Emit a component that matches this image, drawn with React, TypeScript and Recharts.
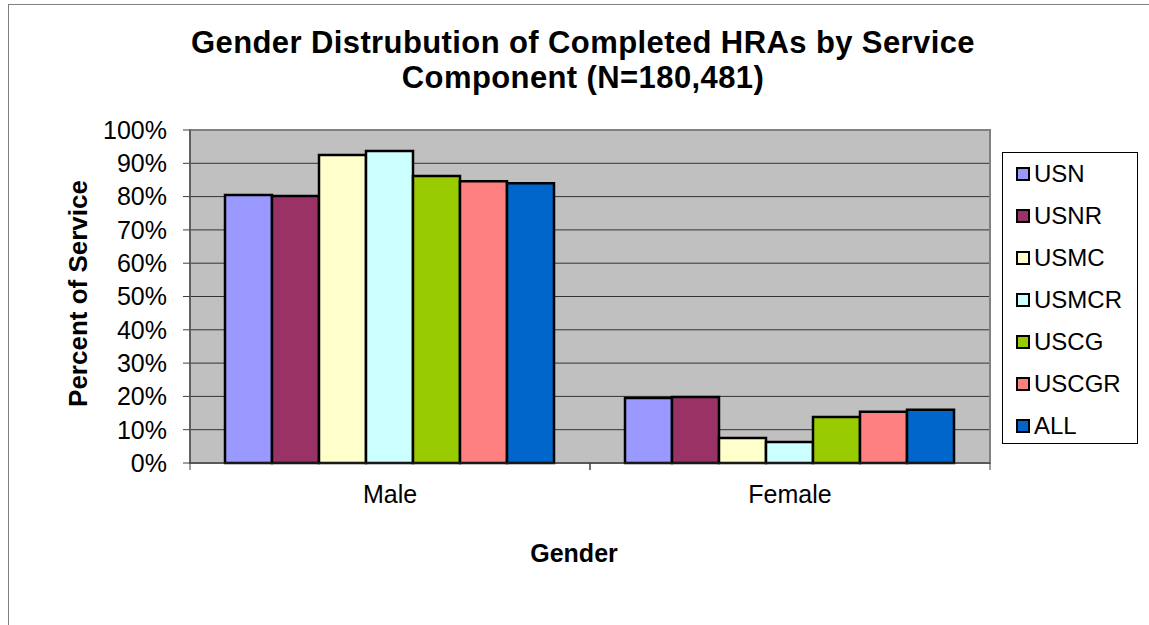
import React from 'react';
import { BarChart, Bar, XAxis, YAxis, CartesianGrid, Legend, ReferenceArea } from 'recharts';

const FONT = '"Liberation Sans", Arial, Helvetica, sans-serif';

// categories
const genders = ['Male', 'Female'];

// percent of service
const usn = [80.5, 19.5];
const usnr = [80.2, 19.8];
const usmc = [92.5, 7.5];
const usmcr = [93.7, 6.3];
const uscg = [86.2, 13.8];
const uscgr = [84.6, 15.4];
const all = [84.0, 16.0];

const yTicks = [0, 10, 20, 30, 40, 50, 60, 70, 80, 90, 100];

const series = [
    { key: 'USN', values: usn, color: '#9999FF' },
    { key: 'USNR', values: usnr, color: '#993366' },
    { key: 'USMC', values: usmc, color: '#FFFFCC' },
    { key: 'USMCR', values: usmcr, color: '#CCFFFF' },
    { key: 'USCG', values: uscg, color: '#99CC00' },
    { key: 'USCGR', values: uscgr, color: '#FF8080' },
    { key: 'ALL', values: all, color: '#0066CC' },
];

const data = genders.map((g, i) => {
    const row: { [k: string]: string | number } = { gender: g };
    series.forEach(s => { row[s.key] = s.values[i]; });
    return row;
});

const X_TICK_MARGIN = 22;

// category label plus the little tick marks at the band edges
const GenderTick = (props: any) => {
    const { x, y, payload, width } = props;
    const half = payload.offset || (width / genders.length / 2);
    const axisY = y - X_TICK_MARGIN;
    return (
        <g>
            <line x1={x - half} x2={x - half} y1={axisY} y2={axisY + 7} stroke="#404040" />
            <line x1={x + half} x2={x + half} y1={axisY} y2={axisY + 7} stroke="#404040" />
            <text x={x} y={y} dy="0.71em" textAnchor="middle" fill="#000" fontSize={25} fontFamily={FONT}>
                {payload.value}
            </text>
        </g>
    );
};

// keep the series order (the default legend sorts by name)
const LegendBox = () => (
    <div style={{ border: '1px solid #000', background: '#fff', width: 136, height: 292, boxSizing: 'border-box', fontFamily: FONT }}>
        {series.map(s => (
            <div key={s.key} style={{ height: 42, display: 'flex', alignItems: 'center', paddingLeft: 13 }}>
                <span style={{ display: 'inline-block', width: 10, height: 10, border: '2px solid #000', background: s.color, marginRight: 4 }} />
                <span style={{ fontSize: 24, color: '#000', lineHeight: '24px' }}>{s.key}</span>
            </div>
        ))}
    </div>
);

const YLabel = (props: any) => {
    const { viewBox } = props;
    const cx = viewBox.x + 17;
    const cy = viewBox.y + viewBox.height / 2 - 3;
    return (
        <text x={cx} y={cy} transform={`rotate(-90, ${cx}, ${cy})`} textAnchor="middle" fontSize={26} fontWeight="bold" fontFamily={FONT} fill="#000">
            Percent of Service
        </text>
    );
};

const XLabel = (props: any) => {
    const { viewBox } = props;
    return (
        <text x={viewBox.x + viewBox.width / 2 - 16} y={viewBox.y + 99} textAnchor="middle" fontSize={25} fontWeight="bold" fontFamily={FONT} fill="#000">
            Gender
        </text>
    );
};

export default function App() {
    return (
        <div style={{ position: 'absolute', left: 0, top: 0, width: 1149, height: 625, overflow: 'hidden', background: '#fff', fontFamily: FONT }}>
            <div style={{ position: 'absolute', left: 8, top: 4, width: 1300, height: 800, borderLeft: '1px solid #808080', borderTop: '1px solid #808080' }} />
            <div style={{ position: 'absolute', left: 83, top: 25, width: 1000, textAlign: 'center', fontSize: 31, lineHeight: '35px', fontWeight: 'bold', letterSpacing: 0.4, color: '#000', whiteSpace: 'nowrap' }}>
                Gender Distrubution of Completed HRAs by Service<br />Component (N=180,481)
            </div>
            <div style={{ position: 'absolute', left: 0, top: 0 }}>
                <BarChart
                    width={1149}
                    height={625}
                    data={data}
                    margin={{ top: 130, right: 23, bottom: 52, left: 70 }}
                    barCategoryGap={35}
                    barGap={0}
                >
                    <CartesianGrid vertical={false} stroke="#333" fill="#C0C0C0" />
                    <ReferenceArea x1="Male" x2="Female" y1={0} y2={100} fill="none" stroke="#808080" strokeWidth={2} ifOverflow="visible" />
                    <XAxis
                        dataKey="gender"
                        height={110}
                        tickSize={0}
                        tickMargin={X_TICK_MARGIN}
                        tickLine={false}
                        axisLine={{ stroke: '#333' }}
                        tick={<GenderTick />}
                        label={<XLabel />}
                    />
                    <YAxis
                        width={120}
                        domain={[0, 100]}
                        ticks={yTicks}
                        interval={0}
                        tickFormatter={(v) => `${v}%`}
                        tickSize={7}
                        tickMargin={16}
                        axisLine={{ stroke: '#404040' }}
                        tickLine={{ stroke: '#404040' }}
                        tick={{ fill: '#000', fontSize: 25, fontFamily: FONT }}
                        label={<YLabel />}
                    />
                    <Legend
                        layout="horizontal"
                        verticalAlign="middle"
                        align="right"
                        content={<LegendBox />}
                        wrapperStyle={{ left: 1002, top: 152, right: 'auto', width: 136, height: 292 }}
                    />
                    {series.map(s => (
                        <Bar key={s.key} dataKey={s.key} name={s.key} fill={s.color} stroke="#000" strokeWidth={2.5} isAnimationActive={false} />
                    ))}
                </BarChart>
            </div>
        </div>
    );
}
